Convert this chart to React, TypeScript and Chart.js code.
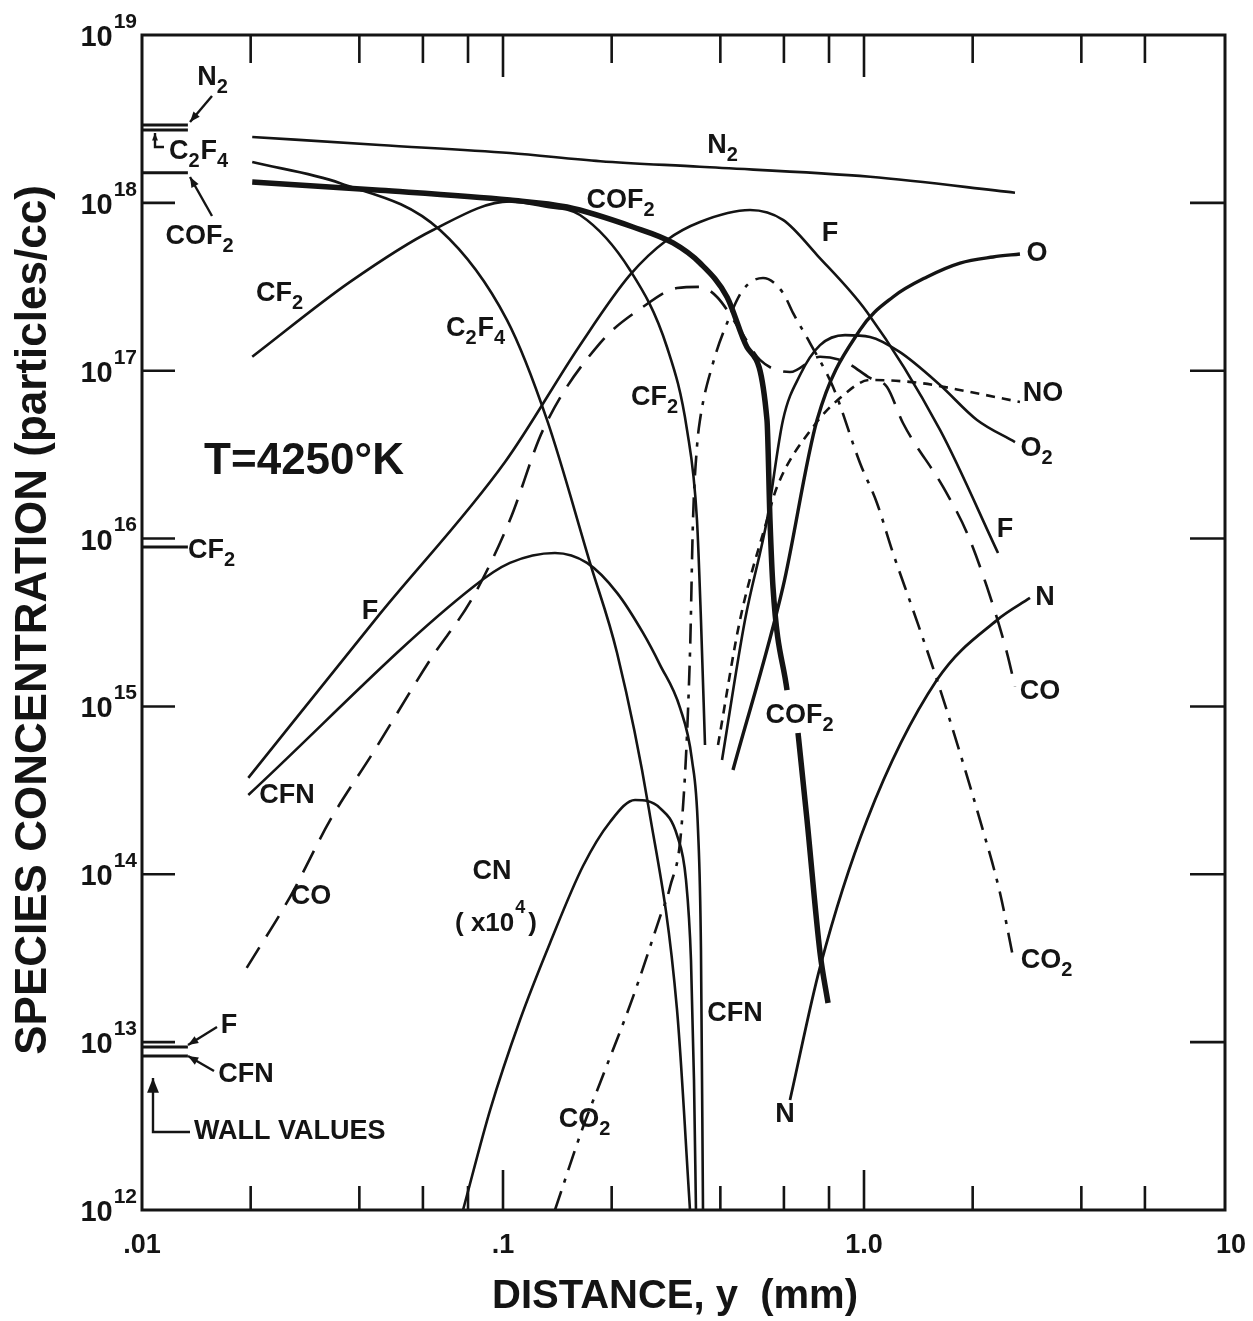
import React, { useEffect, useRef } from "react";
import { Chart, registerables } from "chart.js";

Chart.register(...registerables);

const INK = "#141414";
const FONT = '"Liberation Sans", Arial, sans-serif';

// ---------- data (distance in mm, concentration in particles/cc) ----------
const N2_X = [0.0202, 0.0456, 0.1045, 0.186, 0.351, 1.04, 2.62];
const N2_Y = [2.47e18, 2.21e18, 1.98e18, 1.77e18, 1.64e18, 1.43e18, 1.15e18];

const C2F4_X = [0.0202, 0.0354, 0.0669, 0.1026, 0.1324, 0.1742, 0.207, 0.2538, 0.3034, 0.3296];
const C2F4_Y = [1.75e18, 1.31e18, 6.89e17, 2.0e17, 5.09e16, 7.16e15, 2.08e15, 2.42e14, 1.56e13, 1e12];

const COF2_X = [0.0202, 0.0456, 0.1045, 0.1504, 0.2292, 0.2958, 0.3513, 0.4174, 0.4742, 0.5386, 0.549, 0.5596, 0.612, 0.63, 0.6565, 0.6954, 0.7555, 0.7951];
const COF2_Y = [1.33e18, 1.19e18, 1.04e18, 9.44e17, 7.18e17, 5.77e17, 4.38e17, 2.75e17, 1.38e17, 5.09e16, 1.29e16, 5.15e15, 1.25e15, null, 6.95e14, 2.1e14, 3.4e13, 1.71e13];

const CF2_X = [0.0202, 0.0377, 0.064, 0.1045, 0.1307, 0.1634, 0.2248, 0.2847, 0.3234, 0.3446, 0.3535, 0.3627];
const CF2_Y = [1.21e17, 3.38e17, 6.89e17, 1.02e18, 9.5e17, 8.47e17, 3.98e17, 1.38e17, 4.44e16, 1.29e16, 3.27e15, 5.89e14];

const F_X = [0.0197, 0.0456, 0.1013, 0.1634, 0.2248, 0.2847, 0.3513, 0.4833, 0.5965, 0.7412, 1.019, 1.624, 2.351];
const F_Y = [3.75e14, 3.56e15, 2.86e16, 1.42e17, 3.72e17, 6.01e17, 7.69e17, 9.06e17, 7.91e17, 4.89e17, 2.24e17, 4.44e16, 8.21e15];

const CFN_X = [0.0197, 0.0826, 0.1045, 0.1393, 0.1709, 0.207, 0.2443, 0.2722, 0.3093, 0.3338, 0.3469, 0.3535, 0.3581];
const CFN_Y = [2.97e14, 5.15e15, 7.16e15, 8.21e15, 7.16e15, 4.75e15, 2.74e15, 1.77e15, 9.8e14, 4.8e14, 1.84e14, 3.54e13, 1e12];

const CN_X = [0.0775, 0.0921, 0.1115, 0.135, 0.1666, 0.1979, 0.2321, 0.2722, 0.3034, 0.3213, 0.3317, 0.3381, 0.3424];
const CN_Y = [1e12, 3.94e12, 1.36e13, 3.9e13, 1.12e14, 2.05e14, 2.77e14, 2.48e14, 1.71e14, 9.25e13, 3.08e13, 5.96e12, 1e12];

const CO_X = [0.0195, 0.0257, 0.0332, 0.0436, 0.0628, 0.0826, 0.1045, 0.1291, 0.1857, 0.2443, 0.3034, 0.3513, 0.3916, 0.4534, 0.5151, 0.6237, 0.7555, 0.886, 1.039, 1.158, 1.282, 1.656, 1.929, 2.191, 2.49, 2.62];
const CO_Y = [2.77e13, 7.32e13, 2.1e14, 5.28e14, 1.89e15, 4.49e15, 1.29e16, 4.44e16, 1.46e17, 2.4e17, 3.11e17, 3.16e17, 2.75e17, 1.75e17, 1.16e17, 9.82e16, 1.21e17, 1.13e17, 9.05e16, 8.0e16, 4.88e16, 2.03e16, 1.08e16, 5.15e15, 2.08e15, 1.31e15];

const CO2_X = [0.1393, 0.1666, 0.1857, 0.2292, 0.2722, 0.2902, 0.3133, 0.3296, 0.336, 0.3446, 0.3513, 0.3817, 0.4174, 0.4622, 0.5251, 0.5965, 0.6358, 0.7088, 0.8208, 0.9748, 1.086, 1.203, 1.367, 1.593, 1.845, 2.096, 2.381, 2.587];
const CO2_Y = [1e12, 3.12e12, 5.71e12, 1.86e13, 5.57e13, 8.4e13, 2.1e14, 2.08e15, 1.29e16, 3.52e16, 5.09e16, 1.11e17, 1.92e17, 3.03e17, 3.57e17, 2.91e17, 2.21e17, 1.46e17, 8.0e16, 2.82e16, 1.63e16, 8.21e15, 3.76e15, 1.44e15, 5.28e14, 2.1e14, 7.74e13, 3.22e13];

const NO_X = [0.3941, 0.4534, 0.5386, 0.5741, 0.7225, 0.858, 1.039, 1.429, 1.966, 2.704];
const NO_Y = [5.89e14, 3.27e15, 1.29e16, 2.03e16, 4.62e16, 6.87e16, 8.81e16, 8.45e16, 7.47e16, 6.51e16];

const O2_X = [0.4043, 0.4681, 0.5386, 0.5965, 0.665, 0.7555, 0.886, 1.039, 1.258, 1.624, 2.056, 2.62];
const O2_Y = [4.8e14, 3.27e15, 1.29e16, 5.09e16, 9.43e16, 1.42e17, 1.63e17, 1.59e17, 1.29e17, 8.22e16, 5.09e16, 3.76e16];

const O_X = [0.4336, 0.5965, 0.7412, 0.9748, 1.203, 1.494, 1.845, 2.277, 2.704];
const O_Y = [4.18e14, 5.15e15, 5.09e16, 1.75e17, 2.75e17, 3.62e17, 4.38e17, 4.76e17, 4.96e17];

const N_X = [0.6237, 0.7555, 1.019, 1.593, 2.336, 2.883];
const N_Y = [4.52e12, 2.8e13, 2.1e14, 1.44e15, 3.27e15, 4.43e15];

// wall values (at y = 0.01 mm)
const WALL_SPECIES = ["N2", "C2F4", "COF2", "CF2", "F", "CFN"];
const WALL_VALUES = [2.91e18, 2.72e18, 1.51e18, 8.91e15, 9.36e12, 8.26e12];
const WALL_X = [0.01, 0.0134];

// axis ticks
const X_TICK_VALUES = [0.01, 0.1, 1, 10];
const X_TICK_LABELS = [".01", ".1", "1.0", "10"];
const X_MINOR = [0.02, 0.04, 0.06, 0.08, 0.2, 0.4, 0.6, 0.8, 2, 4, 6];
const X_MAJOR = [0.1, 1];
const Y_EXPONENTS = [12, 13, 14, 15, 16, 17, 18, 19];

type Series = { xs: number[]; ys: (number | null)[]; width: number; dash: number[] };

const SERIES: Series[] = [
  { xs: N2_X, ys: N2_Y, width: 2.6, dash: [] },
  { xs: C2F4_X, ys: C2F4_Y, width: 2.6, dash: [] },
  { xs: COF2_X, ys: COF2_Y, width: 5.5, dash: [] },
  { xs: CF2_X, ys: CF2_Y, width: 2.6, dash: [] },
  { xs: F_X, ys: F_Y, width: 2.6, dash: [] },
  { xs: CFN_X, ys: CFN_Y, width: 2.6, dash: [] },
  { xs: CN_X, ys: CN_Y, width: 2.6, dash: [] },
  { xs: CO_X, ys: CO_Y, width: 2.6, dash: [24, 13] },
  { xs: CO2_X, ys: CO2_Y, width: 2.6, dash: [20, 9, 4, 9] },
  { xs: NO_X, ys: NO_Y, width: 2.6, dash: [9, 7] },
  { xs: O2_X, ys: O2_Y, width: 2.6, dash: [] },
  { xs: O_X, ys: O_Y, width: 3.4, dash: [] },
  { xs: N_X, ys: N_Y, width: 2.8, dash: [] },
];

// ---------- annotation helpers ----------
function drawChem(ctx: CanvasRenderingContext2D, text: string, cx: number, cy: number, size = 27) {
  const toks: { t: string; sub: boolean; w: number }[] = [];
  for (const ch of text) {
    const sub = /\d/.test(ch);
    const last = toks[toks.length - 1];
    if (last && last.sub === sub) last.t += ch;
    else toks.push({ t: ch, sub, w: 0 });
  }
  const mainF = `bold ${size}px ${FONT}`;
  const subF = `bold ${Math.round(size * 0.74)}px ${FONT}`;
  let w = 0;
  for (const tk of toks) {
    ctx.font = tk.sub ? subF : mainF;
    tk.w = ctx.measureText(tk.t).width + (tk.sub ? 1 : 0);
    w += tk.w;
  }
  let x = cx - w / 2;
  ctx.textAlign = "left";
  ctx.textBaseline = "middle";
  for (const tk of toks) {
    ctx.font = tk.sub ? subF : mainF;
    ctx.fillText(tk.t, x, tk.sub ? cy + size * 0.36 : cy);
    x += tk.w;
  }
}

function arrow(ctx: CanvasRenderingContext2D, pts: number[][], size = 11) {
  ctx.beginPath();
  ctx.moveTo(pts[0][0], pts[0][1]);
  for (let i = 1; i < pts.length; i++) ctx.lineTo(pts[i][0], pts[i][1]);
  ctx.stroke();
  const [x1, y1] = pts[pts.length - 2];
  const [x2, y2] = pts[pts.length - 1];
  const a = Math.atan2(y2 - y1, x2 - x1);
  ctx.beginPath();
  ctx.moveTo(x2, y2);
  ctx.lineTo(x2 - size * Math.cos(a - 0.38), y2 - size * Math.sin(a - 0.38));
  ctx.lineTo(x2 - size * Math.cos(a + 0.38), y2 - size * Math.sin(a + 0.38));
  ctx.closePath();
  ctx.fill();
}

const CURVE_LABELS: [string, number, number][] = [
  ["N2", 723, 146], ["COF2", 621, 201], ["F", 830, 234], ["O", 1037, 254],
  ["CF2", 280, 294], ["C2F4", 476, 329], ["NO", 1043, 394], ["CF2", 655, 398],
  ["O2", 1037, 449], ["F", 1005, 530], ["F", 370, 612], ["N", 1045, 598],
  ["CO", 1040, 692], ["COF2", 800, 716], ["CFN", 287, 796], ["CN", 492, 872],
  ["CO", 311, 897], ["CO2", 1047, 961], ["CFN", 735, 1014], ["N", 785, 1115],
  ["CO2", 585, 1120],
  ["N2", 213, 78], ["C2F4", 199, 152], ["COF2", 200, 237], ["CF2", 212, 551],
  ["F", 229, 1026], ["CFN", 246, 1075],
];

const framePlugin = {
  id: "frame",
  afterDraw(chart: any) {
    const { ctx, chartArea: a, scales } = chart;
    const xs = scales.x;
    const ys = scales.y;
    ctx.save();
    ctx.strokeStyle = INK;
    ctx.fillStyle = INK;
    ctx.lineCap = "butt";
    ctx.setLineDash([]);

    // frame
    ctx.lineWidth = 3;
    ctx.strokeRect(a.left, a.top, a.right - a.left, a.bottom - a.top);

    const seg = (x1: number, y1: number, x2: number, y2: number) => {
      ctx.beginPath();
      ctx.moveTo(x1, y1);
      ctx.lineTo(x2, y2);
      ctx.stroke();
    };

    // ticks
    ctx.lineWidth = 2.6;
    for (const v of X_MINOR) {
      const px = xs.getPixelForValue(v);
      seg(px, a.bottom, px, a.bottom - 24);
      seg(px, a.top, px, a.top + 28);
    }
    for (const v of X_MAJOR) {
      const px = xs.getPixelForValue(v);
      seg(px, a.bottom, px, a.bottom - 40);
      seg(px, a.top, px, a.top + 42);
    }
    for (const e of Y_EXPONENTS) {
      if (e === 12 || e === 19) continue;
      const py = ys.getPixelForValue(Math.pow(10, e));
      seg(a.left, py, a.left + 33, py);
      seg(a.right, py, a.right - 35, py);
    }

    // x tick labels
    ctx.font = `bold 27px ${FONT}`;
    ctx.textAlign = "center";
    ctx.textBaseline = "middle";
    X_TICK_VALUES.forEach((v, i) => {
      const px = xs.getPixelForValue(v);
      ctx.fillText(X_TICK_LABELS[i], px + (i === 3 ? 6 : 0), a.bottom + 36);
    });

    // y tick labels 10^n
    for (const e of Y_EXPONENTS) {
      const py = ys.getPixelForValue(Math.pow(10, e));
      const baseF = `bold 29px ${FONT}`;
      const expF = `bold 21px ${FONT}`;
      ctx.font = expF;
      const ew = ctx.measureText(String(e)).width;
      ctx.font = baseF;
      const bw = ctx.measureText("10").width;
      const bx = a.left - 6 - ew - bw;
      ctx.textAlign = "left";
      ctx.fillText("10", bx, py + 3);
      ctx.font = expF;
      ctx.fillText(String(e), bx + bw + 1, py - 13);
    }

    // axis titles
    ctx.font = `bold 40px ${FONT}`;
    ctx.textAlign = "center";
    ctx.fillText("DISTANCE, y  (mm)", 675, 1297);
    ctx.save();
    ctx.translate(34, 620);
    ctx.rotate(-Math.PI / 2);
    ctx.font = `bold 44px ${FONT}`;
    ctx.fillText("SPECIES CONCENTRATION (particles/cc)", 0, 0);
    ctx.restore();

    // temperature
    ctx.font = `bold 44px ${FONT}`;
    ctx.textAlign = "center";
    ctx.fillText("T=4250\u00B0K", 304, 462);

    // curve labels
    for (const [t, x, y] of CURVE_LABELS) drawChem(ctx, t, x, y);

    // CN multiplier
    ctx.textAlign = "left";
    ctx.font = `bold 26px ${FONT}`;
    const p1 = "( x10";
    const w1 = ctx.measureText(p1).width;
    const sx = 455;
    ctx.fillText(p1, sx, 924);
    ctx.font = `bold 18px ${FONT}`;
    ctx.fillText("4", sx + w1 + 1, 908);
    ctx.font = `bold 26px ${FONT}`;
    ctx.fillText(")", sx + w1 + 14, 924);

    // wall value arrows
    ctx.lineWidth = 2.4;
    arrow(ctx, [[212, 96], [190, 122]]);
    arrow(ctx, [[212, 216], [190, 177]]);
    arrow(ctx, [[164, 147], [155, 147], [155, 133]], 8);
    arrow(ctx, [[217, 1027], [188, 1045]]);
    arrow(ctx, [[214, 1071], [188, 1056]]);
    arrow(ctx, [[190, 1132], [153, 1132], [153, 1078]], 16);
    ctx.font = `bold 27px ${FONT}`;
    ctx.textAlign = "left";
    ctx.textBaseline = "middle";
    ctx.fillText("WALL VALUES", 194, 1132);

    ctx.restore();
  },
};

export default function App() {
  const ref = useRef<HTMLCanvasElement>(null);
  useEffect(() => {
    if (!ref.current) return;
    const datasets: any[] = SERIES.map((s) => ({
      data: s.xs.map((x, i) => ({ x, y: s.ys[i] })),
      borderColor: INK,
      borderWidth: s.width,
      borderDash: s.dash,
      fill: false,
      pointRadius: 0,
      cubicInterpolationMode: "monotone",
      spanGaps: false,
    }));
    WALL_SPECIES.forEach((name, i) => {
      datasets.push({
        label: name,
        data: WALL_X.map((x) => ({ x, y: WALL_VALUES[i] })),
        borderColor: INK,
        borderWidth: 3,
        fill: false,
        pointRadius: 0,
      });
    });
    const chart = new Chart(ref.current, {
      type: "line",
      data: { datasets },
      options: {
        animation: false,
        responsive: false,
        devicePixelRatio: 1,
        layout: { padding: { left: 142, top: 35, right: 28, bottom: 111 } },
        scales: {
          x: { type: "logarithmic", min: 0.01, max: 10, display: false },
          y: { type: "logarithmic", min: 1e12, max: 1e19, display: false },
        },
        plugins: { legend: { display: false }, tooltip: { enabled: false } },
        elements: { point: { radius: 0 }, line: { borderCapStyle: "butt" } },
      } as any,
      plugins: [framePlugin],
    });
    return () => chart.destroy();
  }, []);
  return (
    <div style={{ position: "absolute", left: 0, top: 0, width: 1253, height: 1321, background: "#fff" }}>
      <canvas ref={ref} width={1253} height={1321} style={{ width: 1253, height: 1321, display: "block" }} />
    </div>
  );
}
